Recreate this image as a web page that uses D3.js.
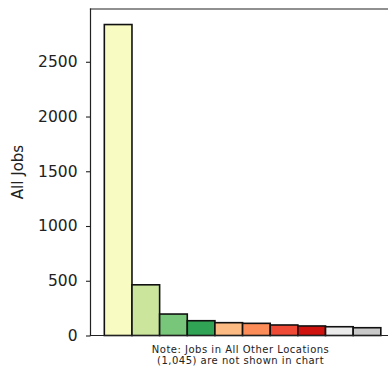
<!DOCTYPE html>
<html>
<head>
<meta charset="utf-8">
<script src="https://cdn.jsdelivr.net/npm/d3@7"></script>
<style>
  html, body { margin: 0; padding: 0; background: #ffffff; }
  svg { display: block; }
</style>
</head>
<body>
<svg id="chart" width="388" height="369"></svg>
<script>
// Data
const categories = ["Location 1", "Location 2", "Location 3", "Location 4", "Location 5",
                    "Location 6", "Location 7", "Location 8", "Location 9", "Location 10"];
const jobs = [2840, 463, 196, 135, 117, 111, 96, 87, 80, 71];
const barColors = ["#f8fbc2", "#cbe59c", "#78c679", "#31a354", "#fdbb84",
                   "#fc8d59", "#ef4a35", "#d0120f", "#ebebeb", "#c9c9c9"];
const yTicks = [0, 500, 1000, 1500, 2000, 2500];
const yLabel = "All Jobs";
const noteLines = ["Note: Jobs in All Other Locations", "(1,045) are not shown in chart"];

const svg = d3.select("#chart");
const plotLeft = 90.5, plotTop = 9, plotBottom = 335.5;
const unit = 27.65;
const plotRight = plotLeft + 11 * unit;

const x = d3.scaleBand()
  .domain(categories)
  .range([plotLeft, plotRight])
  .paddingInner(0)
  .paddingOuter(0.5);

const yMax = d3.max(jobs) * 1.05;
const y = d3.scaleLinear().domain([0, yMax]).range([plotBottom, plotTop]);

// Bars
svg.append("g").selectAll("rect")
  .data(jobs)
  .join("rect")
  .attr("x", (d, i) => x(categories[i]))
  .attr("y", d => y(d))
  .attr("width", x.bandwidth())
  .attr("height", d => y(0) - y(d))
  .attr("fill", (d, i) => barColors[i])
  .attr("stroke", "#111")
  .attr("stroke-width", 1.6);

// Y axis
const yAxis = d3.axisLeft(y).tickValues(yTicks).tickSize(4.5).tickPadding(8.5).tickFormat(d3.format("d"));
const gy = svg.append("g").attr("transform", `translate(${plotLeft},0)`).call(yAxis);
gy.select(".domain").remove();
gy.selectAll(".tick line").attr("stroke", "#222").attr("stroke-width", 1.1);
gy.selectAll(".tick text")
  .attr("fill", "#222")
  .style("font-family", "'DejaVu Sans', sans-serif")
  .style("font-size", "15.5px");

// Spines (frame)
svg.append("g").selectAll("line")
  .data([
    [plotLeft, plotTop, plotLeft, plotBottom],
    [plotLeft, plotTop, plotRight, plotTop],
    [plotLeft, plotBottom, plotRight, plotBottom],
    [plotRight, plotTop, plotRight, plotBottom]
  ])
  .join("line")
  .attr("x1", d => d[0]).attr("y1", d => d[1])
  .attr("x2", d => d[2]).attr("y2", d => d[3])
  .attr("stroke", "#222")
  .attr("stroke-width", 1.2)
  .attr("stroke-linecap", "square");

// Y label
svg.append("text")
  .attr("transform", `translate(23,172) rotate(-90)`)
  .attr("text-anchor", "middle")
  .attr("fill", "#222")
  .style("font-family", "'DejaVu Sans', sans-serif")
  .style("font-size", "15px")
  .text(yLabel);

// Note
const cx = (x(categories[0]) + x(categories[categories.length - 1]) + x.bandwidth()) / 2;
svg.append("g").selectAll("text")
  .data(noteLines)
  .join("text")
  .attr("x", cx - 2)
  .attr("y", (d, i) => 352.5 + i * 11.5)
  .attr("text-anchor", "middle")
  .attr("fill", "#222")
  .style("font-family", "'DejaVu Sans', sans-serif")
  .style("font-size", "10px")
  .style("letter-spacing", "0.5px")
  .text(d => d);
</script>
</body>
</html>
